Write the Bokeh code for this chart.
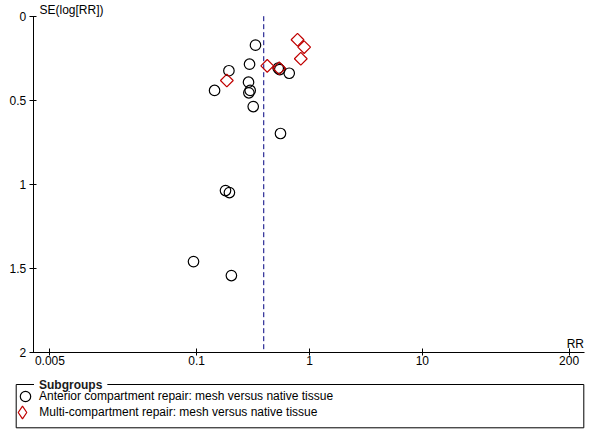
import math
from bokeh.plotting import figure
from bokeh.models import (Range1d, FixedTicker, CustomJSTickFormatter, Label,
                          Legend, LegendItem, BoxAnnotation)
from bokeh.embed import file_html
from bokeh.resources import INLINE

# ---- data ----
anterior_rr = [0.332, 0.294, 0.193, 0.144, 0.288, 0.298, 0.290, 0.317,
               0.528, 0.545, 0.661, 0.553, 0.180, 0.195, 0.0937, 0.203]
anterior_se = [0.172, 0.285, 0.324, 0.441, 0.392, 0.441, 0.455, 0.537,
               0.309, 0.317, 0.339, 0.697, 1.036, 1.048, 1.458, 1.541]
multi_rr = [0.783, 0.897, 0.837, 0.422, 0.185, 0.539]
multi_se = [0.140, 0.184, 0.253, 0.295, 0.382, 0.309]
pooled_rr = 0.393

x_ticks = [0.005, 0.1, 1, 10, 200]
y_ticks = [0, 0.5, 1, 1.5, 2]
axis_rr_min, axis_rr_max = 0.003553, 275.8
series_names = ["Anterior compartment repair: mesh versus native tissue",
                "Multi-compartment repair: mesh versus native tissue"]
legend_title = "Subgroups"
x_label = "RR"
y_label = "SE(log[RR])"

FONT = "Liberation Sans"
W, H = 600, 444
LOGX0, LOGX1 = -2.7394, 2.5798
SE_TOP, SE_BOTTOM = -0.0933, 2.5448


def px_to_rr(px):
    return 10 ** (LOGX0 + (LOGX1 - LOGX0) * px / W)


def py_to_se(py):
    return SE_TOP + (SE_BOTTOM - SE_TOP) * py / H


# the frame covers the whole canvas; the axes are pinned inside it
p = figure(width=W, height=H, x_axis_type="log",
           x_range=Range1d(10 ** LOGX0, 10 ** LOGX1),
           y_range=Range1d(SE_BOTTOM, SE_TOP),
           output_backend="svg", toolbar_location=None,
           min_border=0, min_border_left=0, min_border_right=0,
           min_border_top=0, min_border_bottom=0)
p.outline_line_color = None
p.grid.visible = False
p.background_fill_color = "white"
p.border_fill_color = "white"

for ax in (p.xaxis[0], p.yaxis[0]):
    ax.major_label_text_font = FONT
    ax.major_label_text_font_size = "12px"
    ax.major_label_text_color = "black"
    ax.axis_line_color = "black"
    ax.axis_line_width = 1
    ax.major_tick_line_color = "black"
    ax.minor_tick_line_color = None
    ax.formatter = CustomJSTickFormatter(code="return tick.toString();")

p.xaxis.ticker = FixedTicker(ticks=x_ticks)
p.yaxis.ticker = FixedTicker(ticks=y_ticks)
p.xaxis.fixed_location = y_ticks[-1]
p.yaxis.fixed_location = axis_rr_min
p.xaxis.bounds = (axis_rr_min, axis_rr_max)
p.yaxis.bounds = (y_ticks[0], y_ticks[-1])
p.xaxis.major_tick_in = 4
p.xaxis.major_tick_out = 3
p.xaxis.major_label_standoff = 0
p.yaxis.major_tick_in = 3
p.yaxis.major_tick_out = 4
p.yaxis.major_label_standoff = 3

p.segment(x0=[pooled_rr], y0=[y_ticks[0]], x1=[pooled_rr], y1=[y_ticks[-1]],
          line_color="#000080", line_dash="5 3", line_width=1)

ANT_STYLE = dict(fill_color=None, line_color="black", line_width=1.2)
MULTI_STYLE = dict(fill_color=None, line_color="#C00000", line_width=1.2)

r_ant = p.scatter(anterior_rr, anterior_se, marker="circle", size=10.5, **ANT_STYLE)
r_multi = p.scatter(multi_rr, multi_se, marker="square", angle=math.pi / 4,
                    size=9, **MULTI_STYLE)
# legend swatch for the diamonds (legend glyphs are drawn unrotated)
r_multi_key = p.scatter([float("nan")], [float("nan")], marker="diamond", size=9,
                        **MULTI_STYLE)

p.add_layout(Label(x=px_to_rr(39), y=py_to_se(9.5), text=y_label, text_font=FONT,
                   text_font_size="12px", text_baseline="alphabetic",
                   text_align="left", text_color="black"))
p.add_layout(Label(x=px_to_rr(583.5), y=py_to_se(343.5), text=x_label,
                   text_font=FONT, text_font_size="12px",
                   text_baseline="alphabetic", text_align="right",
                   text_color="black"))

# ---- legend: framed group box with the title on its top edge ----
box = BoxAnnotation(left=px_to_rr(15.7), right=px_to_rr(583.3),
                    top=py_to_se(384), bottom=py_to_se(427.3),
                    fill_color=None, line_color="black", line_width=1,
                    line_alpha=1)
p.add_layout(box)

title_lbl = Label(x=px_to_rr(33.5), y=py_to_se(384), text=legend_title,
                  text_font=FONT, text_font_size="12px", text_font_style="bold",
                  text_baseline="middle", text_align="left", text_color="#1a1a1a",
                  background_fill_color="white", padding=5)
title_lbl.level = "overlay"
p.add_layout(title_lbl)

LEG_STYLE = dict(orientation="vertical", border_line_color=None,
                 background_fill_alpha=0, padding=0, spacing=0, margin=0,
                 label_standoff=1, label_text_font=FONT,
                 label_text_font_size="12px", label_text_color="black")
legend_a = Legend(items=[LegendItem(label=series_names[0], renderers=[r_ant])],
                  location=(12, H - 409), glyph_width=26, glyph_height=26,
                  label_height=26, **LEG_STYLE)
legend_b = Legend(items=[LegendItem(label=series_names[1], renderers=[r_multi_key])],
                  location=(6.3, H - 428.3), glyph_width=32, glyph_height=32,
                  label_height=32, **LEG_STYLE)
p.add_layout(legend_a)
p.add_layout(legend_b)

open("out.html", "w").write(file_html(p, INLINE))
